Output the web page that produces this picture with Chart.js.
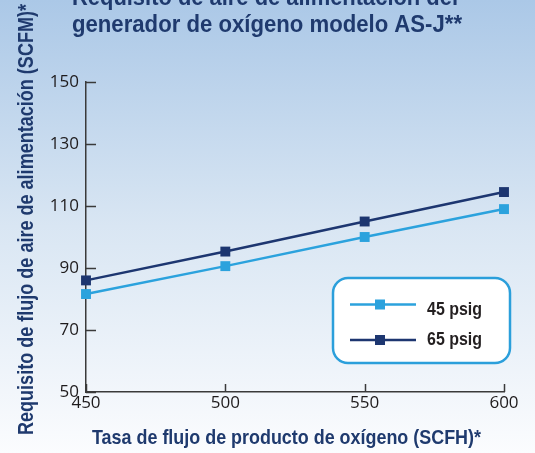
<!DOCTYPE html>
<html><head><meta charset="utf-8">
<script src="https://cdn.jsdelivr.net/npm/chart.js@4/dist/chart.umd.min.js"></script>
<style>html,body{margin:0;padding:0;overflow:hidden;background:#fff}
canvas{display:block}</style></head><body>
<canvas id="c" width="535" height="453"></canvas>
<script>
const flowRates = [450, 500, 550, 600];
const psig45 = [81.6, 90.6, 100, 109];
const psig65 = [86, 95.3, 105, 114.5];
const seriesLabels = ['45 psig', '65 psig'];
const titleLines = ['Requisito de aire de alimentación del', 'generador de oxígeno modelo AS-J**'];
const xTitle = 'Tasa de flujo de producto de oxígeno (SCFH)*';
const yTitle = 'Requisito de flujo de aire de alimentación (SCFM)*';
const xTickValues = [450, 500, 550, 600];
const yTickValues = [50, 70, 90, 110, 130, 150];

const NAVY = '#1f3a6e';
const LIGHT = '#2ba2dd';
const DARK = '#1d3670';
const AXIS = '#3a3a3a';
const BOLD = '"Liberation Sans Narrow", "Liberation Sans", Arial, sans-serif';

const bgPlugin = {
  id: 'bg',
  beforeDraw(chart) {
    const ctx = chart.ctx;
    const g = ctx.createLinearGradient(0, 0, 0, chart.height);
    g.addColorStop(0, '#abc8e7');
    g.addColorStop(0.5, '#d9e6f3');
    g.addColorStop(1, '#fbfcfe');
    ctx.save();
    ctx.fillStyle = g;
    ctx.fillRect(0, 0, chart.width, chart.height);
    ctx.restore();
  }
};

const innerTicks = {
  id: 'innerTicks',
  beforeDatasetsDraw(chart) {
    const ctx = chart.ctx, xs = chart.scales.x, ys = chart.scales.y;
    const a = chart.chartArea;
    ctx.save();
    ctx.strokeStyle = AXIS;
    ctx.lineWidth = 1.5;
    ys.ticks.forEach(t => {
      const y = Math.round(ys.getPixelForValue(t.value)) + 0.5;
      ctx.beginPath(); ctx.moveTo(a.left, y); ctx.lineTo(a.left + 10, y); ctx.stroke();
    });
    xs.ticks.forEach(t => {
      const x = Math.round(xs.getPixelForValue(t.value)) + 0.5;
      ctx.beginPath(); ctx.moveTo(x, a.bottom); ctx.lineTo(x, a.bottom - 8); ctx.stroke();
    });
    ctx.restore();
  }
};

const textPlugin = {
  id: 'texts',
  afterDraw(chart) {
    const ctx = chart.ctx;
    ctx.save();
    ctx.fillStyle = NAVY;
    ctx.textAlign = 'left';
    ctx.textBaseline = 'alphabetic';
    ctx.font = 'bold 23px ' + BOLD;
    ctx.fillText(titleLines[0], 72, 5, 386);
    ctx.fillText(titleLines[1], 72, 31.5, 390);
    ctx.font = 'bold 21px ' + BOLD;
    ctx.fillText(xTitle, 92, 444, 389);
    ctx.save();
    ctx.translate(33, 435);
    ctx.rotate(-Math.PI / 2);
    ctx.font = 'bold 22px ' + BOLD;
    ctx.fillText(yTitle, 0, 0, 431);
    ctx.restore();

    // legend
    const bx = 333, by = 278, bw = 177, bh = 85, r = 15;
    ctx.beginPath();
    ctx.roundRect(bx, by, bw, bh, r);
    ctx.fillStyle = '#ffffff';
    ctx.fill();
    ctx.lineWidth = 2.5;
    ctx.strokeStyle = '#2b9fdb';
    ctx.stroke();
    const rows = [304.5, 340];
    const baselines = [314.5, 344.5];
    chart.data.datasets.forEach((ds, i) => {
      const y = rows[i];
      ctx.strokeStyle = ds.borderColor;
      ctx.lineWidth = 2.5;
      ctx.beginPath(); ctx.moveTo(350, y); ctx.lineTo(416, y); ctx.stroke();
      ctx.fillStyle = ds.pointBackgroundColor;
      ctx.fillRect(375, y - 5, 10, 10);
      ctx.fillStyle = '#231f20';
      ctx.font = 'bold 19px ' + BOLD;
      ctx.textBaseline = 'alphabetic';
      ctx.fillText(ds.label, 427, baselines[i], 55);
    });
    ctx.restore();
  }
};

new Chart(document.getElementById('c'), {
  type: 'line',
  data: {
    datasets: [
      { label: seriesLabels[0], data: flowRates.map((x, i) => ({ x, y: psig45[i] })),
        borderColor: LIGHT, backgroundColor: LIGHT, pointBackgroundColor: LIGHT, pointBorderColor: LIGHT,
        borderWidth: 2.5, pointStyle: 'rect', pointRadius: 7, pointBorderWidth: 0, tension: 0, clip: false },
      { label: seriesLabels[1], data: flowRates.map((x, i) => ({ x, y: psig65[i] })),
        borderColor: DARK, backgroundColor: DARK, pointBackgroundColor: DARK, pointBorderColor: DARK,
        borderWidth: 2.5, pointStyle: 'rect', pointRadius: 7, pointBorderWidth: 0, tension: 0, clip: false }
    ]
  },
  options: {
    responsive: false,
    animation: false,
    events: [],
    layout: { autoPadding: false, padding: { top: 82, right: 31, left: 0, bottom: 0 } },
    plugins: { legend: { display: false }, tooltip: { enabled: false }, title: { display: false } },
    scales: {
      x: {
        type: 'linear', min: 450, max: 600,
        afterBuildTicks: s => { s.ticks = xTickValues.map(v => ({ value: v })); },
        afterFit: s => { s.height = 61; },
        grid: { drawOnChartArea: false, drawTicks: false },
        border: { display: true, color: AXIS, width: 1.5 },
        ticks: { color: '#1e1b1c', font: { family: '"Open Sans", sans-serif', size: 17 }, padding: 1, maxRotation: 0 }
      },
      y: {
        type: 'linear', min: 50, max: 150,
        afterBuildTicks: s => { s.ticks = yTickValues.map(v => ({ value: v })); },
        afterFit: s => { s.width = 86; },
        grid: { drawOnChartArea: false, drawTicks: false },
        border: { display: true, color: AXIS, width: 1.5 },
        ticks: { color: '#1e1b1c', font: { family: '"Open Sans", sans-serif', size: 17 }, padding: 7 }
      }
    }
  },
  plugins: [bgPlugin, innerTicks, textPlugin]
});
</script>
</body></html>
